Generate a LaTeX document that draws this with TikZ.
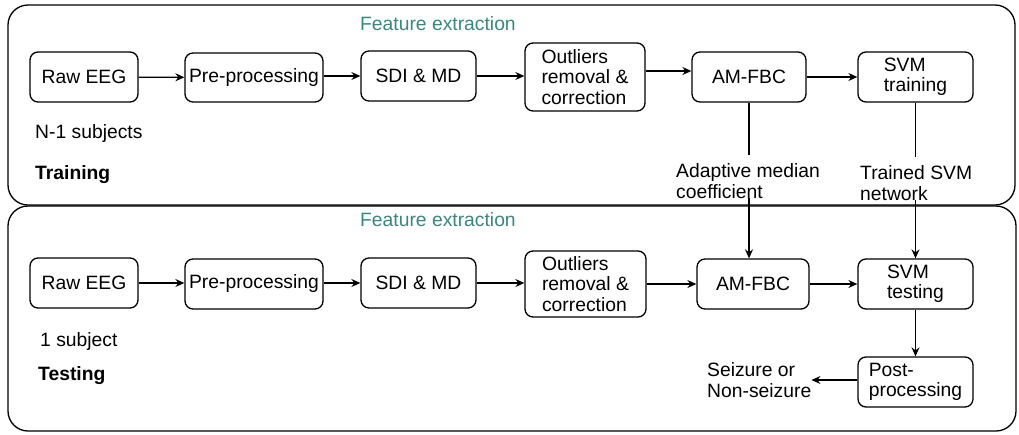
\documentclass[tikz,border=0pt]{standalone}
\usepackage{fontspec}
\setmainfont{Liberation Sans}
\usetikzlibrary{arrows.meta}
\definecolor{teal1}{RGB}{56,135,128}
\begin{document}
\begin{tikzpicture}[x=1pt,y=-1pt,
  every node/.style={font=\fontsize{19.3}{20.5}\selectfont},
  box/.style={draw, line width=1.3pt, rounded corners=8pt, inner sep=0pt, align=left},
  frame/.style={draw, line width=1.3pt, rounded corners=20pt},
  lbl/.style={inner sep=0pt, anchor=west, align=left},
  arr/.style={line width=1.3pt, -{Stealth[length=9pt,width=8pt,inset=3pt]}},
  ln/.style={line width=1.3pt}]
\useasboundingbox (0,0) rectangle (1019,434);
\draw[frame] (8,5) rectangle (1015,205);
\draw[frame] (8,206) rectangle (1016,431);
% top row
\node[box, minimum width=108pt, minimum height=50pt] (rawT) at (84,77) {Raw EEG};
\node[box, minimum width=138pt, minimum height=49pt] (preT) at (254,77.5) {Pre-processing};
\node[box, minimum width=115pt, minimum height=50pt] (sdiT) at (418.5,76) {SDI \& MD};
\node[box, minimum width=120pt, minimum height=68pt] (outT) at (585,77) {Outliers\\removal \&\\correction};
\node[box, minimum width=114pt, minimum height=50pt] (amT) at (749,77) {AM-FBC};
\node[box, minimum width=115pt, minimum height=50pt] (svmT) at (915.5,77) {SVM\\training};
\node[lbl, text=teal1] (feT) at (360,24) {Feature extraction};
\node[lbl] (n1) at (35,134) {N-1 subjects};
\node[lbl] (trn) at (35,175) {\bfseries Training};
\node[lbl] (amlbl) at (676,181) {Adaptive median\\coefficient};
\node[lbl] (svlbl) at (860,183) {Trained SVM\\network};
% bottom row
\node[box, minimum width=108pt, minimum height=50pt] (rawB) at (84,283) {Raw EEG};
\node[box, minimum width=138pt, minimum height=50pt] (preB) at (254,284) {Pre-processing};
\node[box, minimum width=115pt, minimum height=50pt] (sdiB) at (418.5,283) {SDI \& MD};
\node[box, minimum width=121pt, minimum height=66pt] (outB) at (585.5,284) {Outliers\\removal \&\\correction};
\node[box, minimum width=112pt, minimum height=50pt] (amB) at (753,284) {AM-FBC};
\node[box, minimum width=115pt, minimum height=50pt] (svmB) at (915.5,284) {SVM\\testing};
\node[box, minimum width=115pt, minimum height=50pt] (postB) at (915.5,382) {Post-\\processing};
\node[lbl] (seiz) at (707,380) {Seizure or\\Non-seizure};
\node[lbl, text=teal1] (feB) at (360,220) {Feature extraction};
\node[lbl] (one) at (40,342) {1 subject};
\node[lbl] (tst) at (38,376) {\bfseries Testing};
% arrows top
\draw[arr] (rawT) -- (preT);
\draw[arr] (preT.east |- sdiT.west) -- (sdiT);
\draw[arr] (sdiT.east) -- (sdiT.east -| outT.west);
\draw[arr] (outT.east |- 0,71) -- (amT.west |- 0,71);
\draw[arr] (amT) -- (svmT);
% arrows bottom
\draw[arr] (rawB) -- (preB.west |- rawB);
\draw[arr] (preB.east |- sdiB) -- (sdiB);
\draw[arr] (sdiB) -- (outB.west |- sdiB);
\draw[arr] (outB) -- (amB);
\draw[arr] (amB) -- (svmB);
\draw[arr] (svmB) -- (postB);
\draw[arr] (postB.west |- 0,380) -- (seiz.east |- 0,380);
% vertical links
\draw[ln] (amT.south) -- (amT.south |- 0,155);
\draw[arr] (amT.south |- 0,198) -- (amT.south |- amB.north);
\draw[ln] (svmT.south) -- (svmT.south |- 0,157);
\draw[arr] (svmT.south |- 0,200) -- (svmB.north);
\end{tikzpicture}
\end{document}
